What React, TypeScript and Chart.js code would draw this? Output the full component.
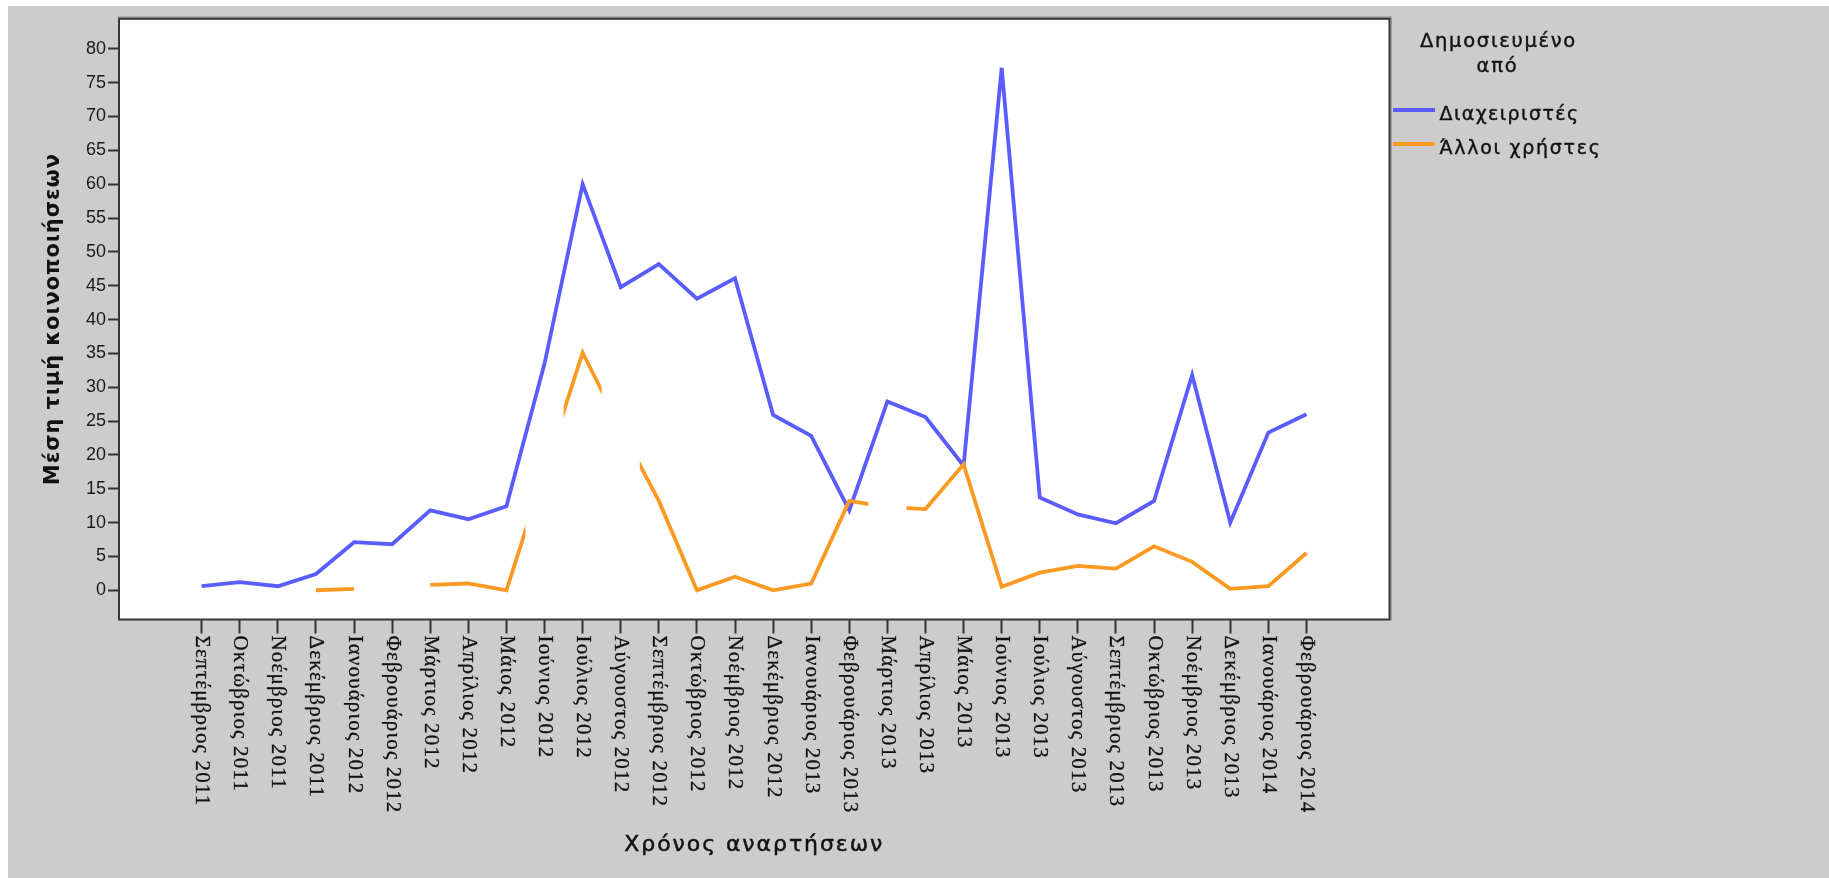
import React, { useEffect, useRef } from 'react';
import { Chart, registerables } from 'chart.js';

Chart.register(...registerables);

// ---- data ----
const months = [
  'Σεπτέμβριος 2011', 'Οκτώβριος 2011', 'Νοέμβριος 2011', 'Δεκέμβριος 2011',
  'Ιανουάριος 2012', 'Φεβρουάριος 2012', 'Μάρτιος 2012', 'Απρίλιος 2012',
  'Μάιος 2012', 'Ιούνιος 2012', 'Ιούλιος 2012', 'Αύγουστος 2012',
  'Σεπτέμβριος 2012', 'Οκτώβριος 2012', 'Νοέμβριος 2012', 'Δεκέμβριος 2012',
  'Ιανουάριος 2013', 'Φεβρουάριος 2013', 'Μάρτιος 2013', 'Απρίλιος 2013',
  'Μάιος 2013', 'Ιούνιος 2013', 'Ιούλιος 2013', 'Αύγουστος 2013',
  'Σεπτέμβριος 2013', 'Οκτώβριος 2013', 'Νοέμβριος 2013', 'Δεκέμβριος 2013',
  'Ιανουάριος 2014', 'Φεβρουάριος 2014',
];

const admins = [
  0.6, 1.2, 0.6, 2.4, 7.1, 6.8, 11.8, 10.5, 12.4, 33.5,
  60.0, 44.8, 48.2, 43.1, 46.1, 25.9, 22.8, 11.8, 27.9, 25.6,
  18.4, 77.2, 13.7, 11.2, 9.9, 13.2, 31.8, 10.0, 23.3, 26.0,
];

const others: (number | null)[] = [
  null, null, null, 0.0, 0.2, null, 0.8, 1.0, 0.0, 17.6,
  35.1, 23.9, 13.2, 0.0, 2.0, 0.0, 1.0, 13.2, 12.3, 12.0,
  18.6, 0.5, 2.6, 3.6, 3.2, 6.5, 4.2, 0.2, 0.6, 5.5,
];

// months whose part of the "others" line is not drawn in the original
const othersHiddenMonths = [9, 11, 18];

const yTicks = [0, 5, 10, 15, 20, 25, 30, 35, 40, 45, 50, 55, 60, 65, 70, 75, 80];

const seriesNames = ['Διαχειριστές', 'Άλλοι χρήστες'];
const legendTitle = ['Δημοσιευμένο', 'από'];
const xTitle = 'Χρόνος αναρτήσεων';
const yTitle = 'Μέση τιμή κοινοποιήσεων';

// ---- styles ----
const BLUE = '#5a5cff';
const ORANGE = '#fa9a22';
const BG = '#cccccc';
const INK = '#111111';
const W = 1821;
const H = 872;

function spacedText(ctx: CanvasRenderingContext2D, text: string, x: number, y: number, target: number, align: 'left' | 'center', heavy = 0) {
  (ctx as any).letterSpacing = '0px';
  const w = ctx.measureText(text).width;
  const n = Array.from(text).length;
  const ls = (target - w) / n;
  (ctx as any).letterSpacing = ls + 'px';
  ctx.textAlign = 'left';
  const sx = align === 'center' ? x - target / 2 : x;
  ctx.fillText(text, sx, y);
  if (heavy > 0) {
    ctx.lineWidth = heavy;
    ctx.strokeStyle = ctx.fillStyle as string;
    ctx.strokeText(text, sx, y);
  }
  (ctx as any).letterSpacing = '0px';
}

const overlayPlugin = {
  id: 'overlay',
  beforeDraw(chart: any) {
    const { ctx, chartArea: a } = chart;
    ctx.save();
    ctx.fillStyle = '#ffffff';
    ctx.fillRect(a.left, a.top, a.right - a.left, a.bottom - a.top);
    ctx.restore();
  },
  beforeDatasetDraw(chart: any, args: any) {
    if (args.index !== 1) return;
    const { ctx, chartArea: a, scales } = chart;
    const xs = scales.x;
    ctx.save();
    ctx.beginPath();
    let start = a.left;
    const hidden = [...othersHiddenMonths].sort((p, q) => p - q);
    for (const h of hidden) {
      const l = xs.getPixelForValue(h - 0.5);
      const r = xs.getPixelForValue(h + 0.5);
      ctx.rect(start, a.top - 10, l - start, a.bottom - a.top + 20);
      start = r;
    }
    ctx.rect(start, a.top - 10, a.right - start, a.bottom - a.top + 20);
    ctx.clip();
  },
  afterDatasetDraw(chart: any, args: any) {
    if (args.index !== 1) return;
    chart.ctx.restore();
  },
  afterDraw(chart: any) {
    const { ctx, chartArea: a, scales } = chart;
    const xs = scales.x;
    ctx.save();

    // frame
    ctx.strokeStyle = '#8a8a8a';
    ctx.lineWidth = 1.2;
    ctx.beginPath();
    ctx.moveTo(a.left - 1, a.top - 1.6);
    ctx.lineTo(a.right + 1.6, a.top - 1.6);
    ctx.lineTo(a.right + 1.6, a.bottom + 1);
    ctx.stroke();
    ctx.strokeStyle = '#363636';
    ctx.lineWidth = 2;
    ctx.strokeRect(a.left, a.top, a.right - a.left, a.bottom - a.top);

    // x tick labels (rotated clockwise)
    ctx.fillStyle = INK;
    ctx.font = '21px "Liberation Serif"';
    (ctx as any).letterSpacing = '0px';
    const calW = ctx.measureText(months[5]).width;
    const calN = Array.from(months[5]).length;
    const ls = (178 - calW) / calN;
    months.forEach((lab, i) => {
      const px = xs.getPixelForValue(i);
      ctx.save();
      ctx.translate(px, a.bottom + 16);
      ctx.rotate(Math.PI / 2);
      ctx.textAlign = 'left';
      ctx.textBaseline = 'middle';
      (ctx as any).letterSpacing = ls + 'px';
      ctx.fillText(lab, 0, 0);
      ctx.lineWidth = 0.3;
      ctx.strokeStyle = INK;
      ctx.strokeText(lab, 0, 0);
      ctx.restore();
    });
    (ctx as any).letterSpacing = '0px';

    // x title
    ctx.fillStyle = INK;
    ctx.textBaseline = 'alphabetic';
    ctx.font = '22px "DejaVu Sans"';
    spacedText(ctx, xTitle, (a.left + a.right) / 2, a.bottom + 231, 260, 'center', 0.5);

    // y title
    ctx.save();
    ctx.translate(51, (a.top + a.bottom) / 2);
    ctx.rotate(-Math.PI / 2);
    ctx.font = 'bold 21px "DejaVu Sans"';
    ctx.textBaseline = 'alphabetic';
    spacedText(ctx, yTitle, 0, 0, 332, 'center');
    ctx.restore();

    // legend
    const lx = a.right;
    ctx.font = '19.5px "DejaVu Sans"';
    ctx.textBaseline = 'alphabetic';
    spacedText(ctx, legendTitle[0], lx + 109, 40.5, 157, 'center', 0.4);
    spacedText(ctx, legendTitle[1], lx + 108, 65.5, 42, 'center', 0.4);

    const items = [
      { name: seriesNames[0], color: BLUE, lineY: 104, baseY: 114, w: 140 },
      { name: seriesNames[1], color: ORANGE, lineY: 138, baseY: 148, w: 162 },
    ];
    ctx.font = '19px "DejaVu Sans"';
    items.forEach((it) => {
      ctx.strokeStyle = it.color;
      ctx.lineWidth = 4;
      ctx.beginPath();
      ctx.moveTo(lx + 3.5, it.lineY);
      ctx.lineTo(lx + 45.5, it.lineY);
      ctx.stroke();
      ctx.fillStyle = INK;
      spacedText(ctx, it.name, lx + 50, it.baseY, it.w, 'left', 0.4);
    });

    ctx.restore();
  },
};

export default function App() {
  const ref = useRef<HTMLCanvasElement | null>(null);

  useEffect(() => {
    if (!ref.current) return;
    const chart = new Chart(ref.current, {
      type: 'line',
      data: {
        datasets: [
          {
            label: seriesNames[0],
            data: admins.map((v, i) => ({ x: i, y: v })),
            borderColor: BLUE,
            backgroundColor: BLUE,
            borderWidth: 3.8,
            pointRadius: 0,
            tension: 0,
            spanGaps: false,
            order: 1,
          },
          {
            label: seriesNames[1],
            data: others.map((v, i) => ({ x: i, y: v })),
            borderColor: ORANGE,
            backgroundColor: ORANGE,
            borderWidth: 3.8,
            pointRadius: 0,
            tension: 0,
            spanGaps: false,
            order: 0,
          },
        ],
      },
      options: {
        responsive: false,
        animation: false,
        events: [],
        devicePixelRatio: 1,
        layout: { padding: { left: 0, top: 8, right: 439.5, bottom: 0 } },
        plugins: { legend: { display: false }, tooltip: { enabled: false }, title: { display: false } },
        scales: {
          x: {
            type: 'linear',
            min: -2.17,
            max: 31.18,
            afterBuildTicks: (s: any) => { s.ticks = months.map((_, i) => ({ value: i })); },
            afterFit: (s: any) => { s.height = 258.5; },
            ticks: { display: false },
            grid: { display: true, drawOnChartArea: false, drawTicks: true, tickLength: 14, tickColor: '#333333', tickWidth: 2 },
            border: { display: false },
          },
          y: {
            type: 'linear',
            min: -4.32,
            max: 84.44,
            afterBuildTicks: (s: any) => { s.ticks = yTicks.map((v) => ({ value: v })); },
            afterFit: (s: any) => { s.width = 111; },
            ticks: { font: { family: '"Liberation Sans"', size: 18 }, color: '#1a1a1a', padding: 2 },
            grid: { display: true, drawOnChartArea: false, drawTicks: true, tickLength: 11, tickColor: '#333333', tickWidth: 2 },
            border: { display: false },
          },
        },
      },
      plugins: [overlayPlugin],
    } as any);
    return () => chart.destroy();
  }, []);

  return (
    <div style={{ position: 'fixed', left: 8, top: 6, width: W, height: H, background: BG }}>
      <canvas ref={ref} width={W} height={H} style={{ display: 'block', width: W, height: H }} />
    </div>
  );
}
